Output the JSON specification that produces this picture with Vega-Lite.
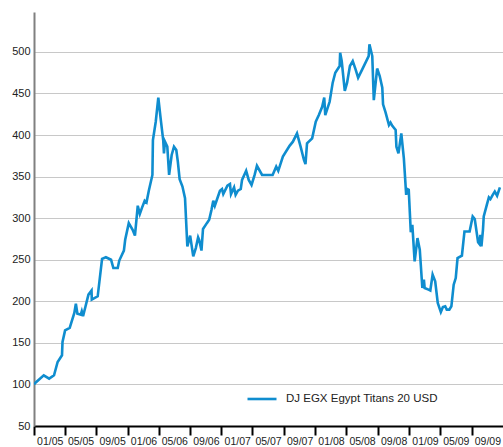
{
  "$schema": "https://vega.github.io/schema/vega-lite/v6.json",
  "width": 469,
  "height": 414,
  "autosize": "none",
  "padding": {"left": 34, "top": 12, "right": 0, "bottom": 21},
  "background": "white",
  "config": {
    "view": {"stroke": null},
    "font": "Liberation Sans"
  },
  "data": {
    "format": {"parse": {"d": "date:'%Y-%m-%d'"}},
    "values": [
      {"d": "2005-01-01", "v": 100},
      {"d": "2005-01-10", "v": 103},
      {"d": "2005-02-08", "v": 111},
      {"d": "2005-03-01", "v": 107},
      {"d": "2005-03-20", "v": 111},
      {"d": "2005-04-03", "v": 127},
      {"d": "2005-04-20", "v": 135},
      {"d": "2005-04-22", "v": 151},
      {"d": "2005-05-02", "v": 165},
      {"d": "2005-05-20", "v": 168},
      {"d": "2005-06-07", "v": 186},
      {"d": "2005-06-13", "v": 197},
      {"d": "2005-06-19", "v": 185},
      {"d": "2005-07-02", "v": 184},
      {"d": "2005-07-06", "v": 188},
      {"d": "2005-07-11", "v": 182},
      {"d": "2005-08-01", "v": 208},
      {"d": "2005-08-13", "v": 213},
      {"d": "2005-08-14", "v": 202},
      {"d": "2005-09-06", "v": 206},
      {"d": "2005-09-23", "v": 251},
      {"d": "2005-10-08", "v": 253},
      {"d": "2005-10-28", "v": 250},
      {"d": "2005-11-06", "v": 240},
      {"d": "2005-11-23", "v": 240},
      {"d": "2005-11-29", "v": 249},
      {"d": "2005-12-17", "v": 261},
      {"d": "2005-12-22", "v": 274},
      {"d": "2006-01-05", "v": 294},
      {"d": "2006-01-20", "v": 286},
      {"d": "2006-01-29", "v": 279},
      {"d": "2006-02-09", "v": 315},
      {"d": "2006-02-17", "v": 305},
      {"d": "2006-02-26", "v": 313},
      {"d": "2006-03-08", "v": 321},
      {"d": "2006-03-15", "v": 319},
      {"d": "2006-03-24", "v": 333},
      {"d": "2006-04-07", "v": 352},
      {"d": "2006-04-09", "v": 394},
      {"d": "2006-04-20", "v": 416},
      {"d": "2006-04-30", "v": 445},
      {"d": "2006-05-09", "v": 420},
      {"d": "2006-05-19", "v": 394},
      {"d": "2006-05-22", "v": 378},
      {"d": "2006-05-26", "v": 392},
      {"d": "2006-06-04", "v": 386},
      {"d": "2006-06-11", "v": 352},
      {"d": "2006-06-21", "v": 376},
      {"d": "2006-06-30", "v": 386},
      {"d": "2006-07-09", "v": 382},
      {"d": "2006-07-15", "v": 368},
      {"d": "2006-07-22", "v": 347},
      {"d": "2006-08-02", "v": 338},
      {"d": "2006-08-12", "v": 324},
      {"d": "2006-08-21", "v": 266},
      {"d": "2006-09-01", "v": 279},
      {"d": "2006-09-13", "v": 254},
      {"d": "2006-09-23", "v": 264},
      {"d": "2006-10-02", "v": 277},
      {"d": "2006-10-06", "v": 274},
      {"d": "2006-10-15", "v": 261},
      {"d": "2006-10-21", "v": 287},
      {"d": "2006-11-05", "v": 294},
      {"d": "2006-11-14", "v": 298},
      {"d": "2006-11-23", "v": 310},
      {"d": "2006-11-30", "v": 321},
      {"d": "2006-12-06", "v": 315},
      {"d": "2006-12-16", "v": 324},
      {"d": "2006-12-26", "v": 333},
      {"d": "2007-01-03", "v": 335},
      {"d": "2007-01-08", "v": 329},
      {"d": "2007-01-24", "v": 339},
      {"d": "2007-02-03", "v": 341},
      {"d": "2007-02-07", "v": 329},
      {"d": "2007-02-19", "v": 337},
      {"d": "2007-02-25", "v": 328},
      {"d": "2007-03-06", "v": 333},
      {"d": "2007-03-17", "v": 335},
      {"d": "2007-03-22", "v": 346},
      {"d": "2007-04-07", "v": 357},
      {"d": "2007-04-17", "v": 346},
      {"d": "2007-04-28", "v": 340},
      {"d": "2007-05-10", "v": 352},
      {"d": "2007-05-19", "v": 363},
      {"d": "2007-06-08", "v": 352},
      {"d": "2007-07-19", "v": 352},
      {"d": "2007-08-02", "v": 362},
      {"d": "2007-08-10", "v": 357},
      {"d": "2007-08-28", "v": 374},
      {"d": "2007-09-23", "v": 387},
      {"d": "2007-10-06", "v": 392},
      {"d": "2007-10-22", "v": 402},
      {"d": "2007-11-05", "v": 386},
      {"d": "2007-11-18", "v": 370},
      {"d": "2007-11-24", "v": 365},
      {"d": "2007-11-30", "v": 390},
      {"d": "2007-12-20", "v": 396},
      {"d": "2008-01-03", "v": 416},
      {"d": "2008-01-15", "v": 424},
      {"d": "2008-01-28", "v": 434},
      {"d": "2008-02-05", "v": 445},
      {"d": "2008-02-09", "v": 424},
      {"d": "2008-02-26", "v": 440},
      {"d": "2008-03-09", "v": 463},
      {"d": "2008-03-19", "v": 475},
      {"d": "2008-04-05", "v": 483},
      {"d": "2008-04-07", "v": 499},
      {"d": "2008-04-13", "v": 489},
      {"d": "2008-04-25", "v": 453},
      {"d": "2008-05-04", "v": 463},
      {"d": "2008-05-15", "v": 483},
      {"d": "2008-05-26", "v": 489},
      {"d": "2008-06-06", "v": 479},
      {"d": "2008-06-16", "v": 469},
      {"d": "2008-07-02", "v": 479},
      {"d": "2008-07-27", "v": 495},
      {"d": "2008-07-30", "v": 509},
      {"d": "2008-08-10", "v": 495},
      {"d": "2008-08-16", "v": 442},
      {"d": "2008-08-29", "v": 480},
      {"d": "2008-09-08", "v": 471},
      {"d": "2008-09-18", "v": 457},
      {"d": "2008-09-21", "v": 437},
      {"d": "2008-10-01", "v": 427},
      {"d": "2008-10-14", "v": 412},
      {"d": "2008-10-20", "v": 415},
      {"d": "2008-10-27", "v": 411},
      {"d": "2008-11-09", "v": 406},
      {"d": "2008-11-12", "v": 386},
      {"d": "2008-11-20", "v": 378},
      {"d": "2008-12-01", "v": 402},
      {"d": "2008-12-11", "v": 372},
      {"d": "2008-12-20", "v": 328},
      {"d": "2008-12-24", "v": 335},
      {"d": "2008-12-30", "v": 334},
      {"d": "2009-01-07", "v": 283},
      {"d": "2009-01-13", "v": 292},
      {"d": "2009-01-22", "v": 248},
      {"d": "2009-02-02", "v": 276},
      {"d": "2009-02-11", "v": 262},
      {"d": "2009-02-21", "v": 216},
      {"d": "2009-02-27", "v": 226},
      {"d": "2009-03-02", "v": 216},
      {"d": "2009-03-17", "v": 214},
      {"d": "2009-03-24", "v": 213},
      {"d": "2009-04-02", "v": 232},
      {"d": "2009-04-12", "v": 224},
      {"d": "2009-04-22", "v": 198},
      {"d": "2009-05-04", "v": 187},
      {"d": "2009-05-12", "v": 193},
      {"d": "2009-05-21", "v": 194},
      {"d": "2009-05-27", "v": 190},
      {"d": "2009-06-06", "v": 190},
      {"d": "2009-06-14", "v": 194},
      {"d": "2009-06-23", "v": 220},
      {"d": "2009-07-01", "v": 228},
      {"d": "2009-07-08", "v": 252},
      {"d": "2009-07-25", "v": 255},
      {"d": "2009-08-04", "v": 284},
      {"d": "2009-08-24", "v": 284},
      {"d": "2009-09-05", "v": 302},
      {"d": "2009-09-13", "v": 299},
      {"d": "2009-09-26", "v": 271},
      {"d": "2009-10-01", "v": 269},
      {"d": "2009-10-05", "v": 280},
      {"d": "2009-10-09", "v": 266},
      {"d": "2009-10-15", "v": 286},
      {"d": "2009-10-18", "v": 302},
      {"d": "2009-10-30", "v": 316},
      {"d": "2009-11-07", "v": 325},
      {"d": "2009-11-13", "v": 323},
      {"d": "2009-11-22", "v": 328},
      {"d": "2009-11-30", "v": 332},
      {"d": "2009-12-09", "v": 327},
      {"d": "2009-12-20", "v": 337}
    ]
  },
  "mark": {"type": "line", "strokeWidth": 2.6, "strokeJoin": "miter", "clip": true},
  "encoding": {
    "x": {
      "field": "d",
      "type": "temporal",
      "title": null,
      "scale": {"domain": [{"year": 2005, "month": 1, "date": 1}, {"year": 2010, "month": 1, "date": 1}]},
      "axis": {
        "values": [
          {"year": 2005, "month": 1, "date": 1}, {"year": 2005, "month": 5, "date": 1}, {"year": 2005, "month": 9, "date": 1},
          {"year": 2006, "month": 1, "date": 1}, {"year": 2006, "month": 5, "date": 1}, {"year": 2006, "month": 9, "date": 1},
          {"year": 2007, "month": 1, "date": 1}, {"year": 2007, "month": 5, "date": 1}, {"year": 2007, "month": 9, "date": 1},
          {"year": 2008, "month": 1, "date": 1}, {"year": 2008, "month": 5, "date": 1}, {"year": 2008, "month": 9, "date": 1},
          {"year": 2009, "month": 1, "date": 1}, {"year": 2009, "month": 5, "date": 1}, {"year": 2009, "month": 9, "date": 1}
        ],
        "format": "%m/%y",
        "grid": false,
        "domainColor": "#000000",
        "domainWidth": 2,
        "tickColor": "#000000",
        "tickWidth": 2,
        "tickSize": 9,
        "labelOffset": 15.7,
        "labelAlign": "center",
        "labelFlush": false,
        "labelOverlap": false,
        "labelPadding": 1,
        "labelFontSize": 10.5,
        "labelColor": "#222222",
        "labelFont": "Liberation Sans"
      }
    },
    "y": {
      "field": "v",
      "type": "quantitative",
      "title": null,
      "scale": {"domain": [50, 548], "nice": false, "zero": false},
      "axis": {
        "values": [50, 100, 150, 200, 250, 300, 350, 400, 450, 500],
        "grid": true,
        "gridColor": "#c8c8c8",
        "gridWidth": 1.2,
        "ticks": false,
        "domainColor": "#808080",
        "domainWidth": 2,
        "labelPadding": 4,
        "labelFontSize": 11,
        "labelColor": "#222222",
        "labelFont": "Liberation Sans"
      }
    },
    "color": {
      "datum": "DJ EGX Egypt Titans 20 USD",
      "type": "nominal",
      "scale": {"range": ["#0f8dcf"]},
      "legend": {
        "title": null,
        "orient": "none",
        "legendX": 212,
        "legendY": 371,
        "padding": 0,
        "symbolType": "stroke",
        "symbolSize": 841,
        "symbolStrokeWidth": 2.6,
        "labelOffset": 8,
        "labelFontSize": 11.5,
        "labelColor": "#222222",
        "labelFont": "Liberation Sans"
      }
    }
  }
}
